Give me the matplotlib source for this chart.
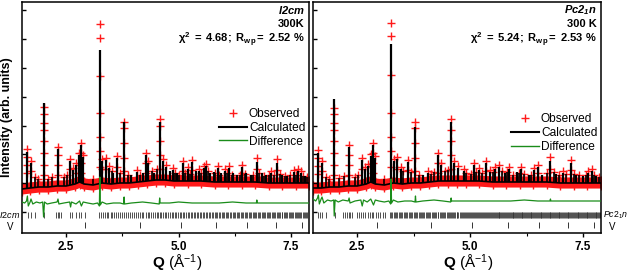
import numpy as np
import matplotlib
matplotlib.use('Agg')
import matplotlib.pyplot as plt
from matplotlib.lines import Line2D

plt.rcParams['font.family'] = ['Liberation Sans', 'DejaVu Sans']
plt.rcParams['mathtext.fontset'] = 'custom'
plt.rcParams['mathtext.rm'] = 'Liberation Sans'
plt.rcParams['mathtext.bf'] = 'Liberation Sans:bold'
plt.rcParams['mathtext.it'] = 'Liberation Sans:italic'
plt.rcParams['mathtext.bfit'] = 'Liberation Sans:italic:bold'

######## DATA (intensity in arb. units) ########

# background of the pattern
bg_q_l = [1.52, 1.7, 1.9, 2.1, 2.3, 2.5, 2.7, 2.8, 2.9, 3.1, 3.3, 3.5, 3.7, 3.9, 4.1,
          4.3, 4.5, 4.7, 4.9, 5.2, 5.5, 5.8, 6.1, 6.4, 6.7, 7.0, 7.3, 7.6, 7.9]
bg_v_l = [44, 45, 46, 46, 47, 47, 49, 51, 49, 48, 50, 49, 50, 50, 51,
          52, 53, 53, 52, 52, 52, 51, 51, 51, 51, 50, 50, 50, 50]
bg_q_r = [1.52, 1.7, 1.9, 2.1, 2.3, 2.5, 2.7, 2.8, 2.9, 3.1, 3.3, 3.5, 3.7, 3.9, 4.1,
          4.3, 4.5, 4.7, 4.9, 5.2, 5.5, 5.8, 6.1, 6.4, 6.7, 7.0, 7.3, 7.6, 7.9]
bg_v_r = [45, 45, 46, 46, 47, 47, 49, 51, 49, 48, 50, 49, 50, 50, 51,
          52, 52, 52, 52, 52, 51, 51, 51, 51, 51, 50, 50, 50, 50]

# calculated peak positions and tops
pk_q_l = [1.64, 1.71, 2.00, 2.32, 2.59, 2.66, 2.72, 2.79, 2.84, 2.88, 3.25, 3.29, 3.39,
          3.46, 3.55, 3.63, 3.79, 3.95, 4.07, 4.21, 4.27, 4.33, 4.45, 4.58, 4.65, 4.73,
          4.80, 4.87, 4.97, 5.09, 5.20, 5.31, 5.38, 5.45, 5.56, 5.62, 5.70, 5.78, 5.87,
          5.95, 6.03, 6.13, 6.22, 6.30, 6.42, 6.50, 6.60, 6.74, 6.85, 6.95, 7.05, 7.19,
          7.30, 7.42, 7.57, 7.65, 7.72, 7.82]
pk_v_l = [81, 70, 130, 84, 72, 63, 68, 78, 88, 76, 183, 72, 73,
          65, 60, 75, 111, 58, 61, 60, 78, 70, 60, 111, 72, 66,
          62, 63, 60, 70, 64, 71, 62, 62, 65, 67, 60, 61, 65,
          60, 62, 65, 60, 58, 66, 60, 58, 71, 60, 58, 60, 70,
          58, 57, 61, 62, 60, 57]
pk_q_r = [1.63, 1.72, 1.99, 2.32, 2.61, 2.68, 2.74, 2.80, 2.86, 2.90, 3.25, 3.31, 3.39,
          3.47, 3.63, 3.79, 3.95, 4.07, 4.30, 4.36, 4.58, 4.65, 4.73, 4.87, 5.09, 5.20,
          5.35, 5.45, 5.56, 5.64, 5.78, 5.87, 6.03, 6.13, 6.30, 6.42, 6.51, 6.60, 6.78,
          6.90, 7.05, 7.24, 7.35, 7.50, 7.62, 7.70, 7.80]
pk_v_r = [80, 70, 134, 86, 73, 64, 67, 77, 88, 75, 189, 72, 74,
          64, 71, 106, 58, 60, 78, 68, 111, 70, 65, 62, 68, 63,
          70, 61, 64, 66, 60, 64, 61, 64, 58, 63, 66, 58, 72,
          59, 60, 70, 58, 57, 60, 62, 57]

# weak reflections that make the background ragged
weak_q_l = [1.80, 1.88, 2.10, 2.18, 2.45, 2.52, 3.10, 3.52, 3.70, 3.87, 4.14, 4.40, 4.52,
            4.92, 5.02, 5.14, 5.25, 5.50, 5.66, 5.82, 5.91, 6.08, 6.18, 6.36, 6.47, 6.66,
            6.79, 6.90, 7.00, 7.12, 7.25, 7.36, 7.48, 7.62, 7.77, 7.86]
weak_v_l = [56, 54, 54, 56, 56, 58, 54, 62, 60, 58, 58, 62, 64,
            60, 58, 60, 59, 60, 62, 60, 58, 60, 58, 58, 59, 58,
            60, 57, 58, 58, 59, 57, 58, 58, 57, 56]
weak_q_r = [1.80, 1.88, 2.10, 2.20, 2.45, 2.52, 3.10, 3.52, 3.70, 3.87, 4.14, 4.20, 4.45,
            4.52, 4.92, 5.02, 5.14, 5.27, 5.50, 5.70, 5.82, 5.94, 6.08, 6.20, 6.36, 6.70,
            6.85, 6.97, 7.12, 7.30, 7.42, 7.56, 7.75, 7.86]
weak_v_r = [56, 54, 55, 57, 56, 58, 54, 62, 61, 58, 59, 61, 62,
            63, 60, 59, 61, 60, 61, 62, 61, 58, 60, 59, 58, 60,
            61, 58, 59, 59, 58, 58, 58, 56]

# observed points standing above the background band
obs_q_l = [1.64, 1.64, 1.64, 1.64, 1.71, 1.71, 2.00, 2.00, 2.00, 2.00, 2.00, 2.00, 2.00, 2.00,
           2.32, 2.32, 2.32, 2.32, 2.59, 2.59, 2.66, 2.72, 2.72, 2.79, 2.79, 2.84, 2.84, 2.84,
           2.84, 2.88, 3.25, 3.25, 3.25, 3.25, 3.25, 3.25, 3.25, 3.29, 3.29, 3.39, 3.39, 3.46,
           3.63, 3.63, 3.79, 3.79, 3.79, 3.79, 3.79, 4.07, 4.27, 4.27, 4.27, 4.33, 4.58, 4.58,
           4.58, 4.58, 4.58, 4.65, 4.73, 4.87, 5.09, 5.09, 5.20, 5.31, 5.31, 5.45, 5.56, 5.62,
           5.87, 6.03, 6.13, 6.42, 6.42, 6.74, 6.74, 7.05, 7.19, 7.19, 7.57, 7.65, 7.72]
obs_v_l = [84, 76, 68, 60, 72, 62, 126, 119, 110, 103, 92, 80, 68, 58,
           86, 78, 68, 58, 74, 64, 65, 70, 60, 80, 68, 90, 80, 70,
           60, 78, 209, 195, 157, 120, 96, 82, 66, 74, 64, 75, 64, 67,
           77, 66, 111, 105, 90, 75, 62, 63, 80, 70, 60, 72, 114, 107,
           92, 78, 64, 74, 68, 65, 72, 62, 66, 73, 63, 64, 67, 69,
           67, 64, 67, 68, 60, 75, 64, 62, 74, 63, 63, 64, 62]
obs_q_r = [1.63, 1.63, 1.63, 1.63, 1.72, 1.72, 1.99, 1.99, 1.99, 1.99, 1.99, 1.99, 1.99, 1.99,
           2.32, 2.32, 2.32, 2.32, 2.61, 2.61, 2.68, 2.74, 2.80, 2.80, 2.86, 2.86, 2.86, 2.86,
           2.90, 3.25, 3.25, 3.25, 3.25, 3.25, 3.25, 3.25, 3.31, 3.39, 3.39, 3.47, 3.63, 3.63,
           3.79, 3.79, 3.79, 3.79, 3.79, 4.07, 4.30, 4.30, 4.30, 4.36, 4.58, 4.58, 4.58, 4.58,
           4.58, 4.65, 4.73, 4.87, 5.09, 5.20, 5.35, 5.35, 5.45, 5.56, 5.64, 5.87, 6.13, 6.42,
           6.51, 6.51, 6.78, 6.78, 7.05, 7.24, 7.24, 7.62, 7.70]
obs_v_r = [83, 75, 67, 59, 72, 62, 125, 119, 110, 103, 92, 80, 68, 58,
           88, 78, 68, 58, 75, 64, 66, 69, 79, 67, 90, 80, 70, 60,
           77, 210, 197, 158, 120, 96, 82, 66, 74, 76, 64, 66, 73, 63,
           111, 105, 90, 75, 62, 62, 80, 70, 60, 70, 114, 103,
           92, 78, 64, 72, 67, 64, 70, 65, 72, 62, 63, 66, 68, 66, 66, 65,
           68, 60, 76, 64, 62, 73, 63, 62, 64]

# difference curve
diff_q_l = [1.52, 1.58, 1.62, 1.64, 1.66, 1.70, 1.72, 1.76, 1.84, 1.92, 1.98, 2.00, 2.02,
            2.08, 2.18, 2.30, 2.32, 2.34, 2.45, 2.58, 2.60, 2.62, 2.72, 2.80, 2.84, 2.88,
            2.98, 3.10, 3.20, 3.24, 3.25, 3.26, 3.30, 3.40, 3.55, 3.70, 3.78, 3.79, 3.80,
            3.95, 4.20, 4.40, 4.57, 4.58, 4.59, 4.80, 5.00, 5.30, 5.60, 5.90, 6.20, 6.50,
            6.73, 6.74, 6.75, 7.00, 7.30, 7.60, 7.90]
diff_v_l = [31, 30, 32, 37, 27, 31, 34, 29, 31, 30, 31, 16, 31,
            29, 30, 31, 34, 29, 30, 31, 26, 31, 29, 32, 27, 31,
            30, 29, 30, 27, 56, 28, 31, 29, 30, 30, 29, 36, 29,
            30, 31, 30, 29, 35, 30, 30, 31, 30, 30, 30, 31, 30,
            30, 33, 30, 30, 30, 30, 30]
diff_q_r = [1.52, 1.58, 1.62, 1.64, 1.66, 1.70, 1.72, 1.76, 1.84, 1.92, 1.98, 1.99, 2.01,
            2.08, 2.18, 2.30, 2.32, 2.34, 2.45, 2.58, 2.61, 2.64, 2.72, 2.80, 2.86, 2.90,
            2.98, 3.10, 3.20, 3.24, 3.25, 3.26, 3.30, 3.40, 3.55, 3.70, 3.78, 3.79, 3.80,
            3.95, 4.20, 4.40, 4.57, 4.58, 4.59, 4.80, 5.00, 5.30, 5.60, 5.90, 6.20, 6.50,
            6.77, 6.78, 6.79, 7.00, 7.30, 7.60, 7.90]
diff_v_r = [34, 32, 35, 38, 29, 34, 36, 30, 33, 32, 33, 17, 33,
            31, 33, 32, 35, 30, 32, 33, 27, 33, 31, 34, 28, 33,
            32, 31, 32, 29, 54, 30, 33, 31, 32, 32, 31, 37, 31,
            32, 33, 32, 31, 35, 32, 32, 32, 32, 32, 32, 33, 32,
            32, 34, 32, 32, 32, 32, 32]

# reflection positions
refl_l = [1.65, 1.72, 1.80, 2.02, 2.28, 2.31, 2.35, 2.38, 2.58, 2.63, 2.72, 2.78, 2.84, 2.91,
          3.23, 3.28, 3.31, 3.36, 3.40, 3.44, 3.49, 3.52, 3.57, 3.61, 3.66, 3.70, 3.74, 3.79,
          3.83, 3.88, 3.92, 3.97, 4.01, 4.05, 4.10, 4.14, 4.18, 4.22, 4.27, 4.31, 4.35, 4.39,
          4.43, 4.47, 4.51, 4.55, 4.58, 4.62, 4.66, 4.70, 4.73, 4.77, 4.81, 4.85, 4.88, 4.92,
          4.95, 4.99, 5.03, 5.06, 5.10, 5.13, 5.17, 5.20, 5.24, 5.27, 5.31, 5.34, 5.37, 5.41,
          5.44, 5.47, 5.51, 5.54, 5.57, 5.61, 5.64, 5.67, 5.70, 5.74, 5.77, 5.80, 5.83, 5.86,
          5.90, 5.93, 5.96, 5.99, 6.02, 6.05, 6.08, 6.11, 6.14, 6.17, 6.20, 6.23, 6.26, 6.29,
          6.32, 6.35, 6.38, 6.41, 6.44, 6.47, 6.50, 6.53, 6.56, 6.59, 6.62, 6.65, 6.68, 6.70,
          6.73, 6.76, 6.79, 6.82, 6.85, 6.87, 6.90, 6.93, 6.96, 6.99, 7.01, 7.04, 7.07, 7.10,
          7.12, 7.15, 7.18, 7.21, 7.23, 7.26, 7.29, 7.31, 7.34, 7.37, 7.39, 7.42, 7.45, 7.47,
          7.50, 7.53, 7.55, 7.58, 7.60, 7.63, 7.66, 7.68, 7.71, 7.73, 7.76, 7.78, 7.81, 7.84,
          7.86]
refl_r = [1.63, 1.67, 1.72, 1.81, 2.01, 2.19, 2.23, 2.28, 2.31, 2.35, 2.39, 2.50, 2.55, 2.59,
          2.63, 2.68, 2.74, 2.78, 2.82, 2.86, 2.91, 2.95, 3.01, 3.06, 3.12,
          3.23, 3.25, 3.28, 3.31, 3.33, 3.36, 3.39, 3.42, 3.45, 3.47, 3.50, 3.53, 3.56, 3.58,
          3.61, 3.64, 3.67, 3.69, 3.72, 3.75, 3.78, 3.80, 3.83, 3.86, 3.88, 3.91, 3.94, 3.96,
          3.99, 4.02, 4.04, 4.07, 4.10, 4.12, 4.15, 4.17, 4.20, 4.23, 4.25, 4.28, 4.30, 4.33,
          4.35, 4.38, 4.40, 4.43, 4.45, 4.48, 4.50, 4.53, 4.55, 4.58, 4.60, 4.62, 4.65, 4.67,
          4.70, 4.72, 4.74, 4.77, 4.79, 4.81, 4.84, 4.86, 4.88, 4.91, 4.93, 4.95, 4.98, 5.00,
          5.02, 5.04, 5.07, 5.09, 5.11, 5.13, 5.16, 5.18, 5.20, 5.22, 5.24, 5.27, 5.29, 5.31,
          5.33, 5.35, 5.37, 5.40, 5.42, 5.44, 5.46, 5.48, 5.50, 5.52, 5.55, 5.57, 5.59, 5.61,
          5.63, 5.65, 5.67, 5.69, 5.71, 5.73, 5.75, 5.77, 5.79, 5.81, 5.84, 5.86, 5.88, 5.90,
          5.92, 5.94, 5.96, 5.98, 6.00, 6.02, 6.04, 6.06, 6.08, 6.10, 6.12, 6.14, 6.16, 6.18,
          6.20, 6.22, 6.24, 6.26, 6.28, 6.30, 6.32, 6.34, 6.36, 6.38, 6.40, 6.42, 6.44, 6.46,
          6.48, 6.50, 6.52, 6.54, 6.56, 6.58, 6.60, 6.62, 6.64, 6.66, 6.68, 6.70, 6.72, 6.74,
          6.76, 6.78, 6.80, 6.82, 6.84, 6.86, 6.88, 6.90, 6.92, 6.94, 6.96, 6.98, 7.00, 7.02,
          7.04, 7.06, 7.08, 7.10, 7.12, 7.14, 7.16, 7.18, 7.20, 7.22, 7.24, 7.26, 7.28, 7.30,
          7.32, 7.34, 7.36, 7.38, 7.40, 7.42, 7.44, 7.46, 7.48, 7.50, 7.52, 7.54, 7.56, 7.58,
          7.60, 7.62, 7.64, 7.66, 7.68, 7.70, 7.72, 7.74, 7.76, 7.78, 7.80, 7.82, 7.84, 7.86,
          7.88]
refl_v = [2.93, 4.14, 5.05, 5.84, 6.53, 7.17, 7.74]

panels = [
    dict(bg_q=bg_q_l, bg_v=bg_v_l, pk_q=pk_q_l, pk_v=pk_v_l, wk_q=weak_q_l, wk_v=weak_v_l,
         obs_q=obs_q_l, obs_v=obs_v_l, diff_q=diff_q_l, diff_v=diff_v_l, refl=refl_l,
         phase=r'$\mathbfit{I2cm}$', temp='300K',
         stats=r'$\mathbf{\chi^2\ =\ 4.68;\ R_{wp}=\ 2.52\ \%}$',
         rowlab=r'$\mathit{I2cm}$', side='left', leg_y=0.572),
    dict(bg_q=bg_q_r, bg_v=bg_v_r, pk_q=pk_q_r, pk_v=pk_v_r, wk_q=weak_q_r, wk_v=weak_v_r,
         obs_q=obs_q_r, obs_v=obs_v_r, diff_q=diff_q_r, diff_v=diff_v_r, refl=refl_r,
         phase=r'$\mathbfit{Pc2_1n}$', temp='300 K',
         stats=r'$\mathbf{\chi^2\ =\ 5.24;\ R_{wp}=\ 2.53\ \%}$',
         rowlab=r'$\mathit{Pc2_1n}$', side='right', leg_y=0.55),
]

######## PLOTTING ########

fig = plt.figure(figsize=(6.27, 2.73), dpi=100)
rects = [[22/627, 40/273, 287/627, 231/273], [313/627, 40/273, 288/627, 231/273]]
red = '#ff1a1a'
green = '#1a8c1a'

for rect, p in zip(rects, panels):
    ax = fig.add_axes(rect)
    # observed band along the background and points on the peaks
    ax.plot(p['bg_q'], p['bg_v'], '-', color=red, lw=8, solid_capstyle='butt', zorder=1)
    ax.plot(p['bg_q'], p['bg_v'], '+', color=red, ms=10, mew=1, zorder=1)
    ax.plot(p['wk_q'], p['wk_v'], '+', color=red, ms=5.5, mew=1, zorder=1)
    ax.plot(p['obs_q'], p['obs_v'], '+', color=red, ms=5.5, mew=1, zorder=2)
    # calculated
    ax.plot(p['bg_q'], p['bg_v'], '-', color='black', lw=1.2, zorder=3)
    ax.vlines(p['pk_q'], np.interp(p['pk_q'], p['bg_q'], p['bg_v']), p['pk_v'],
              color='black', lw=1.6, zorder=3)
    ax.vlines(p['wk_q'], np.interp(p['wk_q'], p['bg_q'], p['bg_v']), p['wk_v'],
              color='black', lw=1.2, zorder=3)
    # difference
    ax.plot(p['diff_q'], p['diff_v'], '-', color=green, lw=0.9, zorder=3)
    # reflection markers
    ax.vlines(p['refl'], 15, 21, color='#333333', lw=0.6)
    ax.vlines(refl_v, 5, 11, color='#333333', lw=0.7)

    ax.set_xlim(1.52, 7.9)
    ax.set_ylim(0, 231)
    ax.set_xticks([2.5, 5.0, 7.5])
    ax.set_xticks([3.75, 6.25], minor=True)
    ax.set_xticklabels(['2.5', '5.0', '7.5'], fontweight='bold', fontsize=8.5)
    ax.set_yticks([21, 50, 79, 107, 136, 165, 194, 223])
    ax.set_yticklabels([])
    ax.tick_params(axis='x', which='major', direction='out', length=3, width=1, pad=3)
    ax.tick_params(axis='x', which='minor', direction='out', length=2, width=0.8)
    ax.tick_params(axis='y', direction='in', length=3, width=1)
    for s in ax.spines.values():
        s.set_linewidth(1.1)
    ax.set_xlabel(r'$\mathbf{Q}$ (Å$^{-1}$)', fontsize=11)
    ax.xaxis.set_label_coords(0.54, -0.085)

    ax.text(0.985, 0.965, p['phase'], transform=ax.transAxes, ha='right', va='center',
            fontsize=8)
    ax.text(0.985, 0.905, p['temp'], transform=ax.transAxes, ha='right', va='center',
            fontsize=8, fontweight='bold')
    ax.text(0.985, 0.835, p['stats'], transform=ax.transAxes, ha='right', va='center',
            fontsize=8)

    handles = [Line2D([], [], ls='none', marker='+', color=red, ms=5.5, mew=1),
               Line2D([], [], color='black', lw=1.5),
               Line2D([], [], color=green, lw=1)]
    ax.legend(handles, ['Observed', 'Calculated', 'Difference'], loc='upper right',
              bbox_to_anchor=(1.012, p['leg_y']), frameon=False, fontsize=8.6,
              handlelength=2.3, handletextpad=0.2, labelspacing=0.15, borderaxespad=0.2)

    if p['side'] == 'left':
        ax.text(-0.005, 18, p['rowlab'], transform=ax.get_yaxis_transform(), ha='right',
                va='center', fontsize=6.5)
        ax.text(-0.04, 6, 'V', transform=ax.get_yaxis_transform(), ha='center',
                va='center', fontsize=7)
        ax.set_ylabel('Intensity (arb. units)', fontweight='bold', fontsize=9, labelpad=3)
    else:
        ax.text(1.007, 18, p['rowlab'], transform=ax.get_yaxis_transform(), ha='left',
                va='center', fontsize=6.3)
        ax.text(1.04, 6, 'V', transform=ax.get_yaxis_transform(), ha='center',
                va='center', fontsize=7)

fig.savefig('out.png', dpi=100)
